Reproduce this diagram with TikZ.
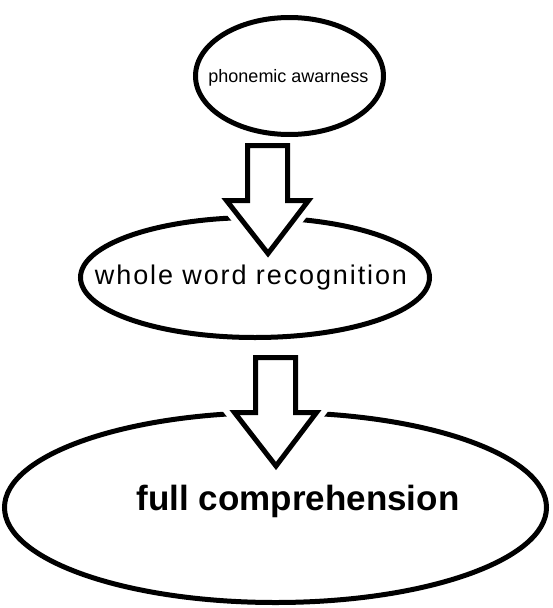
\documentclass[tikz,border=0pt]{standalone}
\usepackage{fontspec}
\setmainfont{Liberation Sans}
\newfontfamily\widefont[LetterSpace=7]{Liberation Sans}
\usetikzlibrary{shapes.geometric}
\usetikzlibrary{calc}

% hollow arrow from #1 (top of shaft) to #2 (tip)
\newcommand{\hollowarrow}[2]{%
  \draw[blockarrow] ($(#1)+(-20,0)$) -- ($(#1)+(-20,55)$) -- ($(#1)+(-41,55)$)
    -- (#2) -- ($(#1)+(41,55)$) -- ($(#1)+(20,55)$) -- ($(#1)+(20,0)$) -- cycle;}

\begin{document}
\begin{tikzpicture}[
  x=1pt, y=-1pt,
  stage/.style={ellipse, draw, line width=5pt, inner sep=0pt},
  caption/.style={inner sep=0pt, anchor=base},
  blockarrow/.style={draw=black, fill=white, line width=5pt,
    preaction={draw=white, line width=17pt}},
]
\useasboundingbox (0,0) rectangle (552,608);

%% Stage 1
\node (phon) [stage, minimum width=188pt, minimum height=117pt] at (289.5,76) {};
\node (phontxt) [caption, font=\fontsize{18}{22}\selectfont] at (288.5,82) {phonemic awarness};

%% Stage 2
\node (word) [stage, minimum width=349pt, minimum height=120pt] at (255,277.5) {};
\node (wordtxt) [caption, font=\fontsize{27}{32}\widefont] at (251,284) {whole word recognition};

%% Stage 3
\node (comp) [stage, minimum width=542pt, minimum height=190pt] at (275.5,507.5) {};
\node (comptxt) [caption, font=\fontsize{35}{42}\selectfont\bfseries] at (298,510) {full comprehension};

%% arrows
\coordinate (a1top) at (267.5,145.5);
\coordinate (a1tip) at (268,253.5);
\coordinate (a2top) at (275.5,357.5);
\coordinate (a2tip) at (276,466);

\hollowarrow{a1top}{a1tip}
\hollowarrow{a2top}{a2tip}

\end{tikzpicture}
\end{document}
